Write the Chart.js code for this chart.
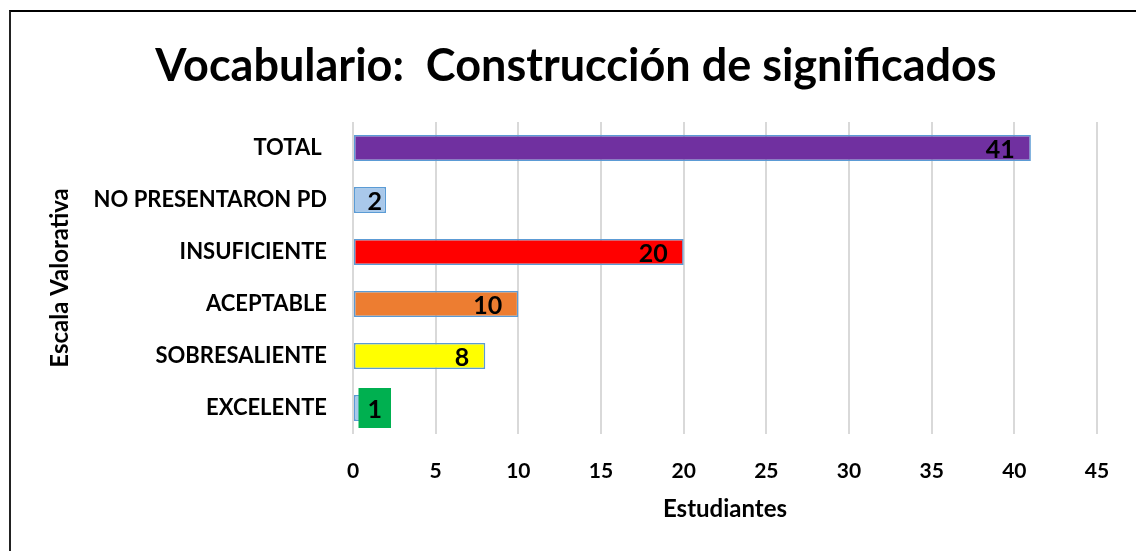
<!DOCTYPE html>
<html>
<head>
<meta charset="utf-8">
<script src="https://cdn.jsdelivr.net/npm/chart.js@4"></script>
<style>
  body { margin: 0; background: #fff; }
  #wrap { position: relative; width: 1136px; height: 551px; }
  #frame { position: absolute; left: 9px; top: 10px; right: -5px; bottom: -5px;
           border-left: 2px solid #222; border-top: 2px solid #000; }
  canvas { position: absolute; left: 0; top: 0; }
</style>
</head>
<body>
<div id="wrap">
  <div id="frame"></div>
  <canvas id="chart" width="1136" height="551"></canvas>
</div>
<script>
// data
const categories = ['TOTAL ', 'NO PRESENTARON PD', 'INSUFICIENTE', 'ACEPTABLE', 'SOBRESALIENTE', 'EXCELENTE'];
const students = [41, 2, 20, 10, 8, 1];
const barColors = ['#7030A0', '#A9C8EA', '#FF0000', '#ED7D31', '#FFFF00', '#A9C8EA'];
const labelBoxes = [null, null, null, null, null, '#00B050'];
const xTicks = [0, 5, 10, 15, 20, 25, 30, 35, 40, 45];
const chartTitle = 'Vocabulario:  Construcción de significados';

const FONT = 'Lato, "Open Sans", sans-serif';

// title is drawn by hand so it can sit a bit right of the plot centre, as in excel
const titlePlugin = {
  id: 'titlePlugin',
  afterDraw(chart) {
    const ctx = chart.ctx;
    ctx.save();
    ctx.font = 'bold 45px ' + FONT;
    ctx.fillStyle = '#000';
    ctx.textAlign = 'center';
    ctx.textBaseline = 'middle';
    ctx.fillText(chartTitle, 576, 66);
    ctx.restore();
  }
};

// value labels inside the bar end, like excel "inside end"
const barLabels = {
  id: 'barLabels',
  afterDatasetsDraw(chart) {
    const ctx = chart.ctx;
    const meta = chart.getDatasetMeta(0);
    ctx.save();
    ctx.font = 'bold 25px ' + FONT;
    ctx.textBaseline = 'middle';
    ctx.textAlign = 'right';
    meta.data.forEach((bar, i) => {
      const txt = String(students[i]);
      const w = ctx.measureText(txt).width;
      let right = Math.max(bar.x - 16, bar.base + 28);
      if (labelBoxes[i]) {
        ctx.fillStyle = labelBoxes[i];
        ctx.fillRect(right - w - 9, bar.y - 20, w + 18, 40);
      }
      ctx.fillStyle = '#000';
      ctx.fillText(txt, right, bar.y + 2);
    });
    ctx.restore();
  }
};

new Chart(document.getElementById('chart'), {
  type: 'bar',
  data: {
    labels: categories,
    datasets: [{
      data: students,
      backgroundColor: barColors,
      borderColor: '#5B9BD5',
      borderWidth: 1.5,
      borderSkipped: false,
      categoryPercentage: 1,
      barPercentage: 0.5
    }]
  },
  options: {
    indexAxis: 'y',
    responsive: false,
    animation: false,
    layout: { padding: { left: 0, right: 39, top: 122, bottom: 0 } },
    plugins: {
      legend: { display: false },
      tooltip: { enabled: false },
      title: { display: false }
    },
    scales: {
      x: {
        min: 0,
        max: 45,
        afterBuildTicks(axis) { axis.ticks = xTicks.map(v => ({ value: v })); },
        afterFit(axis) { axis.height = 117; },
        grid: { color: '#D9D9D9', lineWidth: 2, drawTicks: false },
        border: { display: false },
        ticks: { color: '#000', padding: 25, font: { family: FONT, size: 21, weight: 'bold' } },
        title: {
          display: true,
          text: 'Estudiantes',
          color: '#000',
          font: { family: FONT, size: 24, weight: 'bold' },
          padding: { top: 0, bottom: 27 }
        }
      },
      y: {
        afterFit(axis) { axis.width = 353; },
        grid: { display: false, drawTicks: false },
        border: { display: false },
        ticks: { color: '#000', padding: 26, font: { family: FONT, size: 22, weight: 'bold' } },
        title: {
          display: true,
          text: 'Escala Valorativa',
          color: '#000',
          font: { family: FONT, size: 24, weight: 'bold' },
          padding: { top: 46, bottom: 0 }
        }
      }
    }
  },
  plugins: [barLabels, titlePlugin]
});
</script>
</body>
</html>
